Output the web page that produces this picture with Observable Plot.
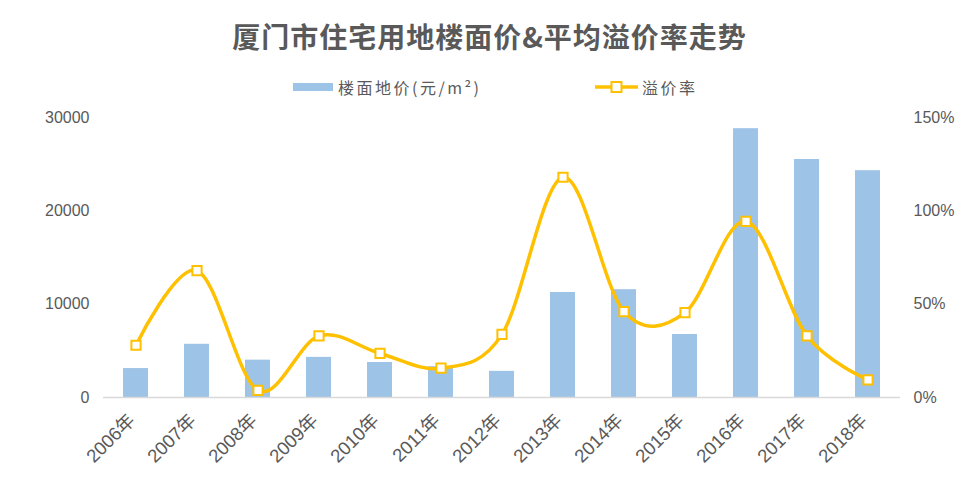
<!DOCTYPE html>
<html><head><meta charset="utf-8">
<script src="https://cdn.jsdelivr.net/npm/d3@7"></script>
<script src="https://cdn.jsdelivr.net/npm/@observablehq/plot@0.6"></script>
<style>
body{margin:0;background:#fff;}
#wrap{position:relative;width:979px;height:489px;overflow:hidden;background:#fff;color:#595959;}
#title{position:absolute;left:0;top:16px;width:979px;text-align:center;font-family:"Noto Sans CJK SC",sans-serif;font-weight:bold;font-size:28px;line-height:40px;color:#595959;letter-spacing:1px}
.leg{position:absolute;top:76px;height:22px;display:flex;align-items:center;font-family:"Noto Sans CJK SC",sans-serif;font-size:16px;letter-spacing:2.5px;color:#595959;white-space:nowrap}
#chart{position:absolute;left:0;top:100px;}
</style></head>
<body><div id="wrap">
<div id="title"></div>
<div class="leg" style="left:293px"><span style="display:inline-block;width:40px;height:8px;background:#9DC3E6;margin-right:5px"></span><span id="leg1"></span></div>
<div class="leg" style="left:595px"><svg width="43" height="14" style="margin-right:4px"><line x1="0" x2="43" y1="7" y2="7" stroke="#FFC000" stroke-width="3.5"/><rect x="16.5" y="2" width="10" height="10" fill="#fff" stroke="#FFC000" stroke-width="2"/></svg><span id="leg2"></span></div>
<div id="chart"></div>
</div>
<script>
const titleText = "厦门市住宅用地楼面价&平均溢价率走势";
const seriesNames = ["楼面地价(元/m²)", "溢价率"];
const years = ["2006年","2007年","2008年","2009年","2010年","2011年","2012年","2013年","2014年","2015年","2016年","2017年","2018年"];
const landPrice = [3100, 5700, 4000, 4300, 3750, 3300, 2800, 11250, 11550, 6750, 28800, 25500, 24300];
const premiumRate = [28, 68, 3.8, 33, 23.6, 15.7, 33.8, 118, 46, 45.5, 94.4, 33, 9.5]; // percent
const leftTicks = [0, 10000, 20000, 30000];
const rightTickLabels = ["0%", "50%", "100%", "150%"];
const rateMax = 150;

document.getElementById("title").textContent = titleText;
document.getElementById("leg1").textContent = seriesNames[0];
document.getElementById("leg2").textContent = seriesNames[1];

const data = years.map((y, i) => ({year: y, price: landPrice[i], rate: premiumRate[i]}));
const k = leftTicks[leftTicks.length - 1] / rateMax;

const chart = Plot.plot({
  width: 979, height: 389,
  marginTop: 17, marginBottom: 92, marginLeft: 103, marginRight: 79,
  style: {fontFamily: '"Liberation Sans","Noto Sans CJK SC",sans-serif', fontSize: "16px", color: "#595959", background: "transparent"},
  x: {type: "band", domain: years, paddingInner: 0.59, paddingOuter: 0.295, label: null},
  y: {domain: [0, leftTicks[leftTicks.length - 1]], label: null},
  marks: [
    Plot.barY(data, {x: "year", y: "price", fill: "#9DC3E6"}),
    Plot.ruleY([0], {stroke: "#D9D9D9", strokeWidth: 1.3}),
    Plot.line(data, {x: "year", y: d => d.rate * k, stroke: "#FFC000", strokeWidth: 3.5, curve: "cardinal", tension: 0}),
    Plot.dot(data, {x: "year", y: d => d.rate * k, symbol: "square", r: 5.2, fill: "white", stroke: "#FFC000", strokeWidth: 2}),
    Plot.axisY(leftTicks, {anchor: "left", tickSize: 0, tickPadding: 14, tickFormat: d => String(d), label: null}),
    Plot.axisY(leftTicks, {anchor: "right", tickSize: 0, tickPadding: 13, tickFormat: d => rightTickLabels[leftTicks.indexOf(d)], label: null}),
    Plot.axisX({tickSize: 0, tickRotate: -45, tickPadding: 20, dx: -4, label: null, fontSize: 18.5})
  ]
});
document.getElementById("chart").appendChild(chart);
</script>
</body></html>
